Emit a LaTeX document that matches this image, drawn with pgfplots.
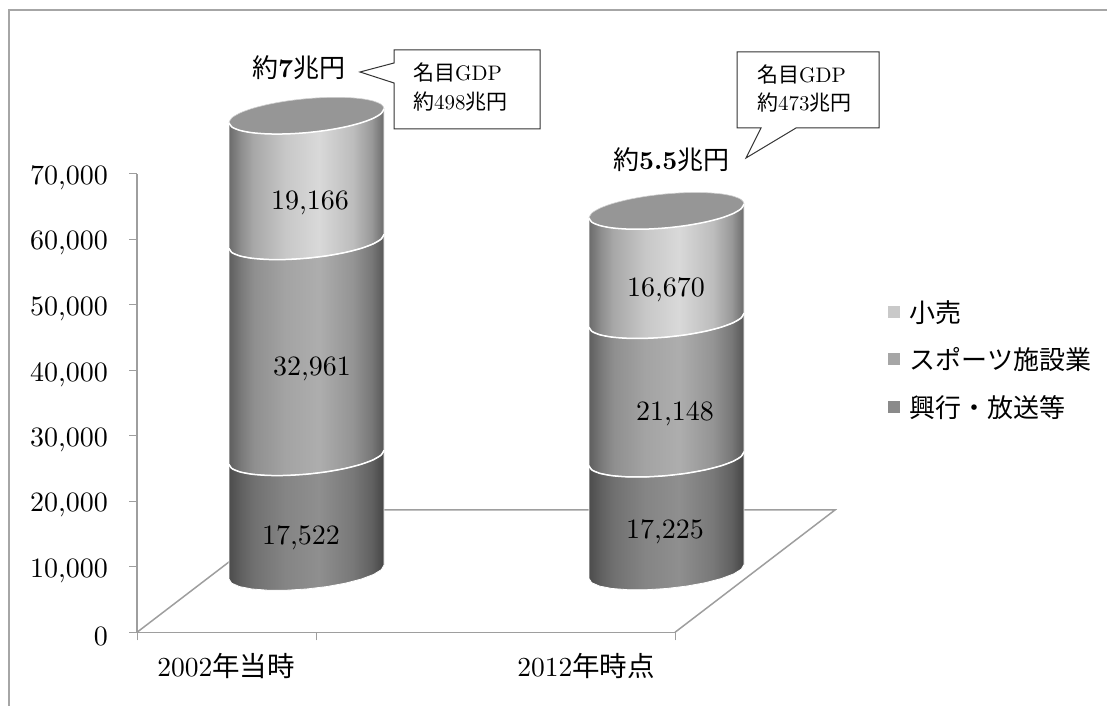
\documentclass[border=0pt]{standalone}
\usepackage{fontspec}
\usepackage{pgfplots}
\usepackage{pgfplotstable}
\pgfplotsset{compat=1.18}
\setmainfont{lmroman10-regular}[Extension=.otf, BoldFont=lmroman10-bold]
\newfontfamily\cjk{Noto Sans CJK JP}

% Horizontal light falloff for the three cylinder layers
\pgfdeclarehorizontalshading{segA}{100bp}{gray(0bp)=(0.30); gray(25bp)=(0.30); gray(29bp)=(0.38); gray(33bp)=(0.44); gray(43bp)=(0.52); gray(54bp)=(0.56); gray(65bp)=(0.47); gray(71bp)=(0.38); gray(75bp)=(0.27); gray(100bp)=(0.27)}
\pgfdeclarehorizontalshading{segB}{100bp}{gray(0bp)=(0.37); gray(25bp)=(0.37); gray(29bp)=(0.48); gray(33bp)=(0.56); gray(43bp)=(0.64); gray(54bp)=(0.68); gray(65bp)=(0.58); gray(71bp)=(0.47); gray(75bp)=(0.34); gray(100bp)=(0.34)}
\pgfdeclarehorizontalshading{segC}{100bp}{gray(0bp)=(0.42); gray(25bp)=(0.42); gray(29bp)=(0.56); gray(33bp)=(0.66); gray(43bp)=(0.78); gray(54bp)=(0.85); gray(65bp)=(0.74); gray(71bp)=(0.60); gray(75bp)=(0.42); gray(100bp)=(0.42)}

% Outline of one layer: front arc at its foot, then the chord at its head (u, v in drawing units)
\pgfplotstableread{
u v w
-1 -7 0
-0.966 -11.16 0
-0.866 -14.56 0
-0.707 -16.97 0
-0.5 -18.22 0
-0.259 -18.23 0
0 -17 0
0.259 -14.61 0
0.5 -11.22 0
0.707 -7.07 0
0.866 -2.44 0
0.966 2.36 0
1 7 0
1 7 1
-1 -7 1
}\shelltable
% Front arc alone, for the light seam between layers
\pgfplotstableread{
u v
-1 -7
-0.966 -11.16
-0.866 -14.56
-0.707 -16.97
-0.5 -18.22
-0.259 -18.23
0 -17
0.259 -14.61
0.5 -11.22
0.707 -7.07
0.866 -2.44
0.966 2.36
1 7
}\arctable
% Full ellipse for the cylinder cap
\pgfplotstableread{
u v
-1 -7
-0.966 -11.16
-0.866 -14.56
-0.707 -16.97
-0.5 -18.22
-0.259 -18.23
0 -17
0.259 -14.61
0.5 -11.22
0.707 -7.07
0.866 -2.44
0.966 2.36
1 7
0.966 11.16
0.866 14.56
0.707 16.97
0.5 18.22
0.259 18.23
0 17
-0.259 14.61
-0.5 11.22
-0.707 7.07
-0.866 2.44
-0.966 -2.36
-1 -7
}\captable

% {centre}{floor level}{stack below}{value}{shading}
\newcommand{\cylseg}[5]{%
  \addplot[shading=#5, draw=white, line width=0.8pt, forget plot]
    table[x expr=#1+77.5*\thisrow{u}, y expr=#2+#3+#4*\thisrow{w}+152.67*\thisrow{v}] {\shelltable} -- cycle;
}
\newcommand{\cylseam}[3]{%
  \addplot[white, line width=1.5pt, smooth, forget plot]
    table[x expr=#1+77.5*\thisrow{u}, y expr=#2+#3+152.67*\thisrow{v}] {\arctable};
}
\newcommand{\cylcap}[3]{%
  \addplot[fill=black!41, draw=white!82!black, line width=0.6pt, smooth, forget plot]
    table[x expr=#1+77.5*\thisrow{u}, y expr=#2+#3+152.67*\thisrow{v}] {\captable} -- cycle;
}

\begin{document}
\begin{tikzpicture}[x=1pt,y=1pt]
\path[use as bounding box] (0,0) rectangle (1107,706);
\draw[color=black!35, line width=1.2pt] (1107,696) -- (9,696) -- (9,0);

\begin{axis}[
  at={(137pt,73.7pt)}, anchor=south west,
  scale only axis, width=538pt, height=458.6pt,
  xmin=137, xmax=675, ymin=0, ymax=70000,
  clip=false,
  axis x line*=bottom, axis y line*=left,
  axis line style={color=black!38, line width=1.5pt, -},
  tick style={color=black!38, line width=1pt},
  tick align=outside, major tick length=8pt,
  ytick={0,10000,...,70000},
  scaled y ticks=false,
  yticklabel style={font=\fontsize{28}{30}\selectfont, /pgf/number format/1000 sep={,}, /pgf/number format/assume math mode=true, inner sep=0pt, xshift=-21pt, yshift=-4pt},
  xtick={137,316,675}, xticklabels={},
  extra x ticks={226,586},
  extra x tick labels={2002{\cjk 年当時},2012{\cjk 年時点}},
  extra x tick style={major tick length=0pt, tick style={draw=none},
    xticklabel style={font=\fontsize{27.5}{30}\selectfont, inner sep=0pt, yshift=-24pt, text height=20pt}},
  legend cell align=left,
  legend style={at={(1.395,0.729)}, anchor=north west, draw=none, fill=none,
    font=\fontsize{26}{28}\selectfont, row sep=20pt, inner sep=0pt,
    /tikz/every odd column/.append style={column sep=8pt}},
  legend image code/.code={\fill[draw=none,#1] (0pt,-6pt) rectangle (12pt,6pt);},
]
% floor of the chart box
\addplot[color=black!38, line width=1.5pt, forget plot] coordinates {(137,0) (297,18672) (835,18672) (675,0)};

% 2002: layers stacked on the shifted floor level
\cylseg{306.5}{9206}{0}{17522}{segA}
\cylseg{306.5}{9206}{17522}{32961}{segB}
\cylseg{306.5}{9206}{50483}{19166}{segC}
\cylcap{306.5}{9206}{69649}
\cylseam{306.5}{9206}{17522}
\cylseam{306.5}{9206}{50483}
\cylseam{306.5}{9206}{69649}

% 2012
\cylseg{666.5}{9282}{0}{17225}{segA}
\cylseg{666.5}{9282}{17225}{21148}{segB}
\cylseg{666.5}{9282}{38373}{16670}{segC}
\cylcap{666.5}{9282}{55043}
\cylseam{666.5}{9282}{17225}
\cylseam{666.5}{9282}{38373}
\cylseam{666.5}{9282}{55043}

% value labels on the layers
\addplot[draw=none, mark=none, forget plot, point meta=explicit symbolic,
  nodes near coords,
  every node near coord/.append style={anchor=center, inner sep=0pt, yshift=-3pt, font=\fontsize{28}{30}\selectfont}]
  table[meta=label] {
x y label
310 65999 19,166
312 40656 32,961
301 14855 17,522
666 52717 16,670
675 33786 21,148
665 15771 17,225
};

\addlegendimage{fill=black!21}\addlegendentry{\cjk 小売}
\addlegendimage{fill=black!35}\addlegendentry{\cjk スポーツ施設業}
\addlegendimage{fill=black!46}\addlegendentry{\cjk 興行・放送等}
\end{axis}

% totals
\node[anchor=west, inner sep=0pt, font=\fontsize{26}{28}\selectfont] at (252,638) {{\cjk 約}\textbf{7}{\cjk 兆円}};
\node[anchor=west, inner sep=0pt, font=\fontsize{26}{28}\selectfont] at (613,546) {{\cjk 約}\textbf{5.5}{\cjk 兆円}};

% callouts
\draw[color=black!80, fill=white, line width=1pt] (394,656) -- (540,656) -- (540,577) -- (394,577) -- (394,623) -- (360,634) -- (394,643) -- cycle;
\draw[color=black!80, fill=white, line width=1pt] (737,654) -- (879,654) -- (879,578) -- (796,578) -- (746,548) -- (761,578) -- (737,578) -- cycle;
\node[anchor=west, inner sep=0pt, font=\fontsize{21}{23}\selectfont] at (413,633) {{\cjk 名目}GDP};
\node[anchor=west, inner sep=0pt, font=\fontsize{21}{23}\selectfont] at (413,604) {{\cjk 約}498{\cjk 兆円}};
\node[anchor=west, inner sep=0pt, font=\fontsize{21}{23}\selectfont] at (757,631) {{\cjk 名目}GDP};
\node[anchor=west, inner sep=0pt, font=\fontsize{21}{23}\selectfont] at (757,603) {{\cjk 約}473{\cjk 兆円}};
\end{tikzpicture}
\end{document}
